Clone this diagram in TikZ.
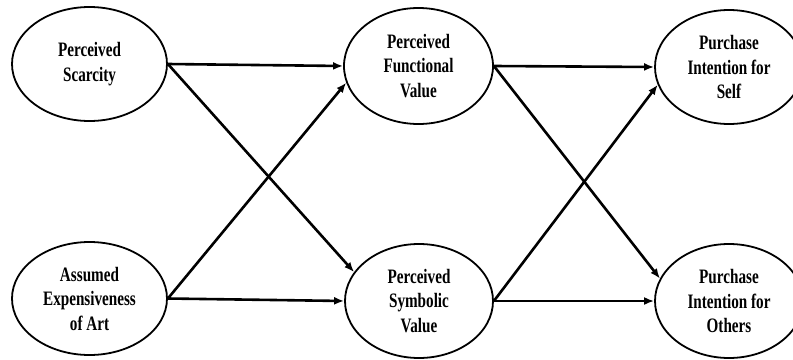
\documentclass[tikz,border=0pt]{standalone}
\usepackage{fontspec}
\setmainfont[FakeStretch=0.74]{Liberation Serif}
\usetikzlibrary{shapes.geometric,arrows.meta}
\begin{document}
\begin{tikzpicture}[x=1pt,y=-1pt,
  var/.style={ellipse,draw,line width=1.8pt,inner sep=0pt,align=center,
    font=\fontsize{20.5}{24.5}\selectfont\bfseries},
  link/.style={line width=2.6pt,-{Latex[length=10pt,width=8pt]}}]
\useasboundingbox (0,0) rectangle (793,359);
\node[var,minimum width=155pt,minimum height=114pt] (s) at (89.5,64) {Perceived\\Scarcity};
\node[var,minimum width=155pt,minimum height=113pt] (a) at (89.5,298.5) {Assumed\\Expensiveness\\of Art};
\node[var,minimum width=149pt,minimum height=116pt] (f) at (418.5,66) {Perceived\\Functional\\Value};
\node[var,minimum width=148pt,minimum height=114pt] (y) at (419,301) {Perceived\\Symbolic\\Value};
\node[var,minimum width=148pt,minimum height=114pt] (p) at (729,67) {Purchase\\Intention for\\Self};
\node[var,minimum width=148pt,minimum height=114pt] (o) at (729,301) {Purchase\\Intention for\\Others};
\draw[link] (s.east) -- (f.west);
\draw[link] (s.east) -- (y.156.5);
\draw[link] (a.east) -- (y.west);
\draw[link] (a.east) -- (f.193.5);
\draw[link] (f.east) -- (p.west);
\draw[link] (f.east) -- (o.162);
\draw[link] (y.east) -- (o.west);
\draw[link] (y.east) -- (p.194);
\end{tikzpicture}
\end{document}
